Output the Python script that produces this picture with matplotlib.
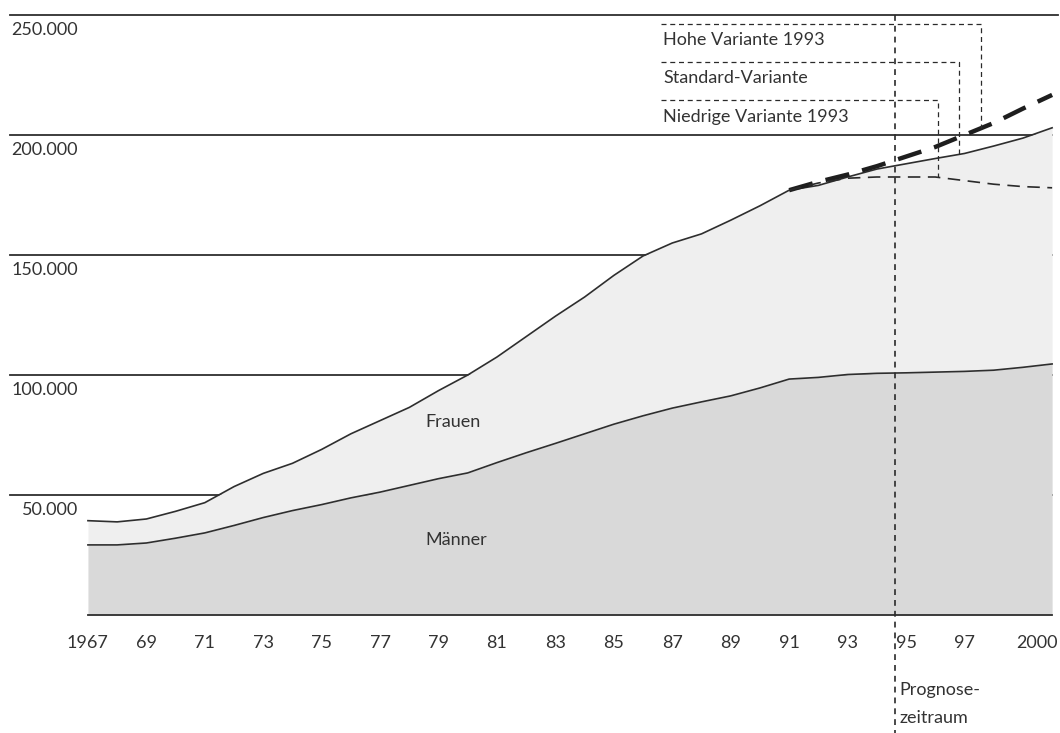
import numpy as np
import matplotlib
matplotlib.use('Agg')
import matplotlib.pyplot as plt

# values in 1000 persons
years = np.arange(1967, 2001)
maenner = [29.2, 29.2, 30.0, 32.0, 34.2, 37.3, 40.6, 43.5, 46.0, 48.8,
           51.2, 54.0, 56.8, 59.2, 63.5, 67.6, 71.5, 75.5, 79.5, 83.0,
           86.2, 88.8, 91.3, 94.6, 98.3, 99.0, 100.2, 100.7, 100.9, 101.2,
           101.5, 102.0, 103.2, 104.6]
gesamt = [39.3, 38.8, 40.0, 43.2, 46.8, 53.5, 59.0, 63.2, 69.0, 75.5,
          81.0, 86.5, 93.5, 100.0, 107.5, 116.0, 124.5, 132.5, 141.5, 149.6,
          155.0, 158.8, 164.5, 170.5, 177.0, 179.0, 182.5, 185.8, 188.0, 190.2,
          192.3, 195.4, 198.7, 203.0]

prog_years = np.arange(1991, 2001)
hoch = [177.0, 180.5, 183.5, 187.0, 191.0, 195.0, 200.0, 205.0, 211.0, 216.7]
niedrig = [177.0, 180.0, 182.0, 182.5, 182.5, 182.5, 181.0, 179.5, 178.5, 178.0]

grid_values = [50, 100, 150, 200, 250]
grid_labels = ['50.000', '100.000', '150.000', '200.000', '250.000']
tick_years = [1967, 1969, 1971, 1973, 1975, 1977, 1979, 1981, 1983, 1985,
              1987, 1989, 1991, 1993, 1995, 1997, 2000]
tick_labels = ['1967', '69', '71', '73', '75', '77', '79', '81', '83', '85',
               '87', '89', '91', '93', '95', '97', '2000']
prognose_start = 1994.63

plt.rcParams['font.family'] = ['Lato', 'DejaVu Sans']
txt = '#333333'
line_c = '#2e2e2e'
fs = 13

fig = plt.figure(figsize=(10.6, 7.33), dpi=100)
ax = fig.add_axes([0, 0, 1, 1])
ax.set_xlim(1963.99, 2000.27)
ax.set_ylim(-49.17, 256.25)
ax.axis('off')

# horizontal grid lines, behind the areas
for v, lab in zip(grid_values, grid_labels):
    right = 2000.2 if v == 250 else 2000
    ax.plot([1964.33, right], [v, v], color=line_c, lw=1.3, zorder=1)
    ax.text(1966.66, v - 6.3, lab, ha='right', va='center', fontsize=fs, color=txt)

# stacked areas
ax.fill_between(years, 0, maenner, color='#d9d9d9', lw=0, zorder=2)
ax.fill_between(years, maenner, gesamt, color='#efefef', lw=0, zorder=2)
ax.plot(years, maenner, color=line_c, lw=1.2, zorder=3)
ax.plot(years, gesamt, color=line_c, lw=1.2, zorder=3)
ax.plot([1967, 2000], [0, 0], color=line_c, lw=1.3, zorder=3)

# forecast variants
ax.plot(prog_years, hoch, color='#1e1e1e', lw=3.2, dashes=(5.5, 3), zorder=4)
ax.plot(prog_years, niedrig, color='#2a2a2a', lw=1.2, dashes=(7.5, 4.5), zorder=4)

# forecast start
ax.plot([prognose_start, prognose_start], [250, -49.17], color='#2a2a2a', lw=1.2,
        dashes=(3.5, 3), zorder=5)
ax.text(1994.77, -31.2, 'Prognose-', ha='left', va='center', fontsize=fs, color=txt)
ax.text(1994.77, -42.9, 'zeitraum', ha='left', va='center', fontsize=fs, color=txt)

# labels with leader lines
leaders = [('Hohe Variante 1993', 246.25, 239.6, 1997.57, prog_years, hoch),
           ('Standard-Variante', 230.4, 223.75, 1996.82, years, gesamt),
           ('Niedrige Variante 1993', 214.6, 207.5, 1996.1, prog_years, niedrig)]
for lab, ly, ty, lx, xs, ys in leaders:
    end = np.interp(lx, xs, ys)
    ax.plot([1986.6, lx, lx], [ly, ly, end], color='#2a2a2a', lw=0.9,
            dashes=(4, 3), zorder=5)
    ax.text(1986.68, ty, lab, ha='left', va='center', fontsize=fs, color=txt)

# area labels
ax.text(1978.55, 80.4, 'Frauen', ha='left', va='center', fontsize=fs, color=txt)
ax.text(1978.55, 31.2, 'Männer', ha='left', va='center', fontsize=fs, color=txt)

# year labels
for yr, lab in zip(tick_years, tick_labels):
    if yr == 2000:
        ax.text(2000.2, -11.7, lab, ha='right', va='center', fontsize=fs, color=txt)
    else:
        ax.text(yr, -11.7, lab, ha='center', va='center', fontsize=fs, color=txt)

fig.savefig('out.png', dpi=100, facecolor='white')
